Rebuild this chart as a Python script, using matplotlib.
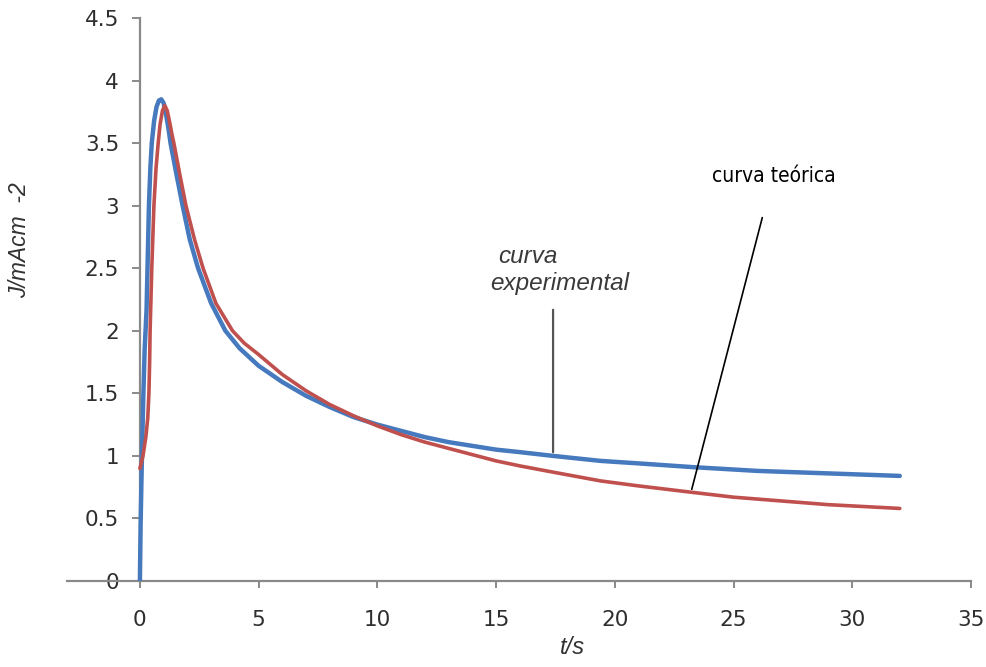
import matplotlib
matplotlib.use("Agg")
import matplotlib.pyplot as plt

# experimental curve (blue)
t_exp = [0, 0.03, 0.07, 0.11, 0.14, 0.2, 0.28, 0.32, 0.38, 0.44, 0.5, 0.6, 0.7,
         0.8, 0.9, 1.0, 1.1, 1.2, 1.29, 1.55, 1.8, 2.1, 2.45, 3.0, 3.6, 4.2,
         5, 6, 7, 8, 9, 10, 11, 12, 13, 14, 15, 16, 17.4, 19.4, 21, 23.3,
         26, 29, 32]
j_exp = [0, 0.45, 0.85, 1.2, 1.45, 1.85, 2.17, 2.5, 3.0, 3.3, 3.5, 3.68, 3.79,
         3.84, 3.85, 3.82, 3.73, 3.62, 3.5, 3.24, 3.0, 2.73, 2.5, 2.22, 2.0, 1.86,
         1.72, 1.59, 1.48, 1.39, 1.31, 1.25, 1.2, 1.15, 1.11, 1.08, 1.05, 1.03,
         1.0, 0.96, 0.94, 0.91, 0.88, 0.86, 0.84]

# theoretical curve (red)
t_teo = [0, 0.13, 0.25, 0.33, 0.38, 0.41, 0.43, 0.5, 0.59, 0.68, 0.77, 0.85,
         0.95, 1.05, 1.15, 1.25, 1.35, 1.43, 1.7, 1.94, 2.3, 2.66, 3.2, 3.9,
         4.4, 5, 6, 7, 8, 9, 10, 11, 12, 13, 14, 15, 16, 17.4, 19.4, 21, 23.2,
         25, 27, 29, 32]
j_teo = [0.9, 1.0, 1.15, 1.3, 1.5, 1.75, 2.0, 2.5, 3.0, 3.3, 3.5, 3.65,
         3.76, 3.8, 3.76, 3.67, 3.57, 3.5, 3.23, 3.0, 2.73, 2.5, 2.22, 2.0,
         1.9, 1.81, 1.65, 1.52, 1.41, 1.32, 1.24, 1.17, 1.11, 1.06, 1.01, 0.96,
         0.92, 0.87, 0.8, 0.76, 0.71, 0.67, 0.64, 0.61, 0.58]

x_ticks = [0, 5, 10, 15, 20, 25, 30, 35]
y_ticks = [0, 0.5, 1, 1.5, 2, 2.5, 3, 3.5, 4, 4.5]
y_tick_labels = ["0", "0.5", "1", "1.5", "2", "2.5", "3", "3.5", "4", "4.5"]

fig = plt.figure(figsize=(9.86, 6.67), dpi=100)
ax = fig.add_axes([67 / 986, 86 / 667, 904 / 986, 563 / 667])

ax.plot(t_exp, j_exp, color="#4679BD", lw=3.2, solid_capstyle="round",
        solid_joinstyle="round", zorder=3)
ax.plot(t_teo, j_teo, color="#C0504D", lw=2.6, solid_capstyle="round",
        solid_joinstyle="round", zorder=4)

ax.set_xlim(-3.07, 35)
ax.set_ylim(0, 4.5)

# Excel-like axes: vertical axis sits at x = 0
axis_col = "#898989"
ax.spines["left"].set_position(("data", 0))
ax.spines["top"].set_visible(False)
ax.spines["right"].set_visible(False)
for s in ("left", "bottom"):
    ax.spines[s].set_color(axis_col)
    ax.spines[s].set_linewidth(1.6)

ax.set_xticks(x_ticks)
ax.set_yticks(y_ticks, y_tick_labels)
ax.tick_params(axis="x", direction="out", length=5, width=1.4, color=axis_col,
               pad=16, labelsize=15.5, labelcolor="#2e2e2e")
ax.tick_params(axis="y", direction="out", length=6, width=1.4, color=axis_col,
               pad=9, labelsize=15.5, labelcolor="#2e2e2e")

ax.text(-0.052, 0.606, "J/mAcm  -2", transform=ax.transAxes, rotation=90,
        ha="center", va="center", fontsize=16.5, style="italic",
        family="Liberation Sans", color="#333333")
ax.text(0.559, -0.119, "t/s", transform=ax.transAxes, ha="center", va="center",
        fontsize=17, style="italic", family="Liberation Sans", color="#333333")

# annotations
ax.text(15.08, 2.59, "curva", fontsize=17.5, style="italic", family="Liberation Sans",
        color="#3a3a3a", ha="left", va="center")
ax.text(14.74, 2.38, "experimental", fontsize=17.5, style="italic",
        family="Liberation Sans", color="#3a3a3a", ha="left", va="center")
ax.annotate("", xy=(17.4, 1.007), xytext=(17.4, 2.19),
            arrowprops=dict(arrowstyle="-", color="#555555", lw=1.6))

ax.text(24.09, 3.24, "curva teórica", fontsize=15, fontstretch="condensed",
        family=["Liberation Sans Narrow", "DejaVu Sans"], color="black",
        ha="left", va="center")
ax.annotate("", xy=(23.21, 0.711), xytext=(26.24, 2.926),
            arrowprops=dict(arrowstyle="-", color="black", lw=1.2))

fig.savefig("out.png", dpi=100)
